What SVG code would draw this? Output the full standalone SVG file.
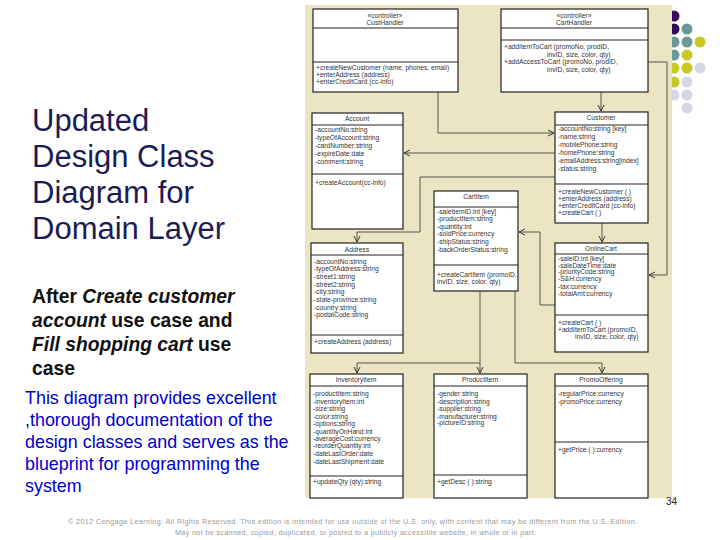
<svg xmlns="http://www.w3.org/2000/svg" width="720" height="540" viewBox="0 0 720 540">
<defs>
<marker id="arr" markerWidth="8" markerHeight="8" refX="7" refY="4" orient="auto" markerUnits="userSpaceOnUse">
<polyline points="1,1 7,4 1,7" fill="none" stroke="#333" stroke-width="1"/>
</marker>
</defs>
<style>
.box{fill:#fff;stroke:#222;stroke-width:1.2}
.sep{stroke:#222;stroke-width:1}
.t{font-family:"Liberation Sans",Arial,sans-serif;font-size:6.7px;fill:#333}
.c{text-anchor:middle}
.con{fill:none;stroke:#444;stroke-width:0.9}
.title{font-family:"Liberation Sans",Arial,sans-serif;font-size:31px;fill:#1c1c54}
.sub{font-family:"Liberation Sans",Arial,sans-serif;font-size:19.3px;fill:#111;font-weight:bold}
.blue{font-family:"Liberation Sans",Arial,sans-serif;font-size:17.9px;fill:#0000cc}
.foot{font-family:"Liberation Sans",Arial,sans-serif;font-size:7.2px;fill:#999}
</style>
<rect width="720" height="540" fill="#fff"/>
<g id="dots">
<circle cx="674" cy="16" r="5.5" fill="#330a5c"/>
<circle cx="674" cy="29" r="5.5" fill="#330a5c"/>
<circle cx="687" cy="29" r="5.5" fill="#6b9999"/>
<circle cx="674" cy="42" r="5.5" fill="#6b9999"/>
<circle cx="687" cy="42" r="5.5" fill="#6b9999"/>
<circle cx="700" cy="42" r="5.5" fill="#c9c824"/>
<circle cx="674" cy="55" r="5.5" fill="#6b9999"/>
<circle cx="687" cy="55" r="5.5" fill="#c9c824"/>
<circle cx="674" cy="68" r="5.5" fill="#c9c824"/>
<circle cx="687" cy="68" r="5.5" fill="#c9c824"/>
<circle cx="700" cy="68" r="5.5" fill="#d6d6e6"/>
<circle cx="674" cy="82" r="5.5" fill="#c9c824"/>
<circle cx="687" cy="82" r="5.5" fill="#d6d6e6"/>
<circle cx="674" cy="95" r="5.5" fill="#d6d6e6"/>
<circle cx="687" cy="95" r="5.5" fill="#d6d6e6"/>
<circle cx="687" cy="108" r="5.5" fill="#d6d6e6"/>
</g>
<rect x="305" y="5" width="367" height="493" fill="#ece5c4"/>
<g id="connectors">
<path class="con" d="M438,92 V133 H554" marker-end="url(#arr)"/>
<path class="con" d="M555,153 H404" marker-end="url(#arr)"/>
<path class="con" d="M601,92 V111" marker-end="url(#arr)"/>
<path class="con" d="M648,62 H667 V275 H649" marker-end="url(#arr)"/>
<path class="con" d="M555,177 H420 V232 H357 V242" marker-end="url(#arr)"/>
<path class="con" d="M602,223 V242" marker-end="url(#arr)"/>
<path class="con" d="M555,305 H540 V232 H519" marker-end="url(#arr)"/>
<path class="con" d="M480,291 V373" marker-end="url(#arr)"/>
<path class="con" d="M480,363 H357 V373" marker-end="url(#arr)"/>
<path class="con" d="M515,291 V363 H602 V373" marker-end="url(#arr)"/>
</g>
<g id="CustHandler">
<rect class="box" x="313" y="9" width="145" height="83"/>
<line class="sep" x1="313" y1="28" x2="458" y2="28"/>
<line class="sep" x1="313" y1="62" x2="458" y2="62"/>
<text class="t c" x="385" y="18">«controller»</text>
<text class="t c" x="385" y="25">CustHandler</text>
<text class="t" x="316" y="70">+createNewCustomer (name, phones, email)</text>
<text class="t" x="316" y="77">+enterAddress (address)</text>
<text class="t" x="316" y="84">+enterCreditCard (cc-info)</text>
</g>
<g id="CartHandler">
<rect class="box" x="501" y="9" width="147" height="83"/>
<line class="sep" x1="501" y1="28" x2="648" y2="28"/>
<line class="sep" x1="501" y1="40" x2="648" y2="40"/>
<text class="t c" x="574" y="18">«controller»</text>
<text class="t c" x="574" y="25">CartHandler</text>
<text class="t" x="504" y="49">+addItemToCart (promoNo, prodID,</text>
<text class="t" x="547" y="57">invID, size, color, qty)</text>
<text class="t" x="504" y="64">+addAccessToCart (promoNo, prodID,</text>
<text class="t" x="547" y="72">invID, size, color, qty)</text>
</g>
<g id="Account">
<rect class="box" x="312" y="113" width="91" height="116"/>
<line class="sep" x1="312" y1="125" x2="403" y2="125"/>
<line class="sep" x1="312" y1="174" x2="403" y2="174"/>
<text class="t c" x="357" y="121">Account</text>
<text class="t" x="315" y="132">-accountNo:string</text>
<text class="t" x="315" y="140">-typeOfAccount:string</text>
<text class="t" x="315" y="148">-cardNumber:string</text>
<text class="t" x="315" y="156">-expireDate:date</text>
<text class="t" x="315" y="164">-comment:string</text>
<text class="t" x="315" y="185">+createAccount(cc-info)</text>
</g>
<g id="Customer">
<rect class="box" x="555" y="112" width="93" height="111"/>
<line class="sep" x1="555" y1="125" x2="648" y2="125"/>
<line class="sep" x1="555" y1="184" x2="648" y2="184"/>
<text class="t c" x="601" y="120">Customer</text>
<text class="t" x="558" y="131">-accountNo:string [key]</text>
<text class="t" x="558" y="139">-name:string</text>
<text class="t" x="558" y="147">-mobilePhone:string</text>
<text class="t" x="558" y="155">-homePhone:string</text>
<text class="t" x="558" y="163">-emailAddress:string[index]</text>
<text class="t" x="558" y="171">-status:string</text>
<text class="t" x="558" y="194">+createNewCustomer ( )</text>
<text class="t" x="558" y="201">+enterAddress (address)</text>
<text class="t" x="558" y="208">+enterCreditCard (cc-info)</text>
<text class="t" x="558" y="215">+createCart ( )</text>
</g>
<g id="CartItem">
<rect class="box" x="434" y="191" width="84" height="100"/>
<line class="sep" x1="434" y1="207" x2="518" y2="207"/>
<line class="sep" x1="434" y1="265" x2="518" y2="265"/>
<text class="t c" x="476" y="199">CartItem</text>
<text class="t" x="437" y="214">-saleItemID:int [key]</text>
<text class="t" x="437" y="221">-productItem:string</text>
<text class="t" x="437" y="229">-quantity:int</text>
<text class="t" x="437" y="236">-soldPrice:currency</text>
<text class="t" x="437" y="244">-shipStatus:string</text>
<text class="t" x="437" y="252">-backOrderStatus:string</text>
<text class="t" x="437" y="277">+createCartItem (promoID,</text>
<text class="t" x="437" y="284">invID, size, color, qty)</text>
</g>
<g id="Address">
<rect class="box" x="311" y="243" width="92" height="110"/>
<line class="sep" x1="311" y1="255" x2="403" y2="255"/>
<line class="sep" x1="311" y1="335" x2="403" y2="335"/>
<text class="t c" x="357" y="252">Address</text>
<text class="t" x="314" y="264">-accountNo:string</text>
<text class="t" x="314" y="271">-typeOfAddress:string</text>
<text class="t" x="314" y="279">-street1:string</text>
<text class="t" x="314" y="287">-street2:string</text>
<text class="t" x="314" y="294">-city:string</text>
<text class="t" x="314" y="302">-state-province:string</text>
<text class="t" x="314" y="310">-country:string</text>
<text class="t" x="314" y="317">-postalCode:string</text>
<text class="t" x="314" y="344">+createAddress (address)</text>
</g>
<g id="OnlineCart">
<rect class="box" x="555" y="243" width="93" height="109"/>
<line class="sep" x1="555" y1="254" x2="648" y2="254"/>
<line class="sep" x1="555" y1="315" x2="648" y2="315"/>
<text class="t c" x="601" y="251">OnlineCart</text>
<text class="t" x="558" y="261">-saleID:int [key]</text>
<text class="t" x="558" y="268">-saleDateTime:date</text>
<text class="t" x="558" y="274">-priorityCode:string</text>
<text class="t" x="558" y="281">-S&amp;H:currency</text>
<text class="t" x="558" y="289">-tax:currency</text>
<text class="t" x="558" y="296">-totalAmt:currency</text>
<text class="t" x="558" y="325">+createCart ( )</text>
<text class="t" x="558" y="332">+addItemToCart (promoID,</text>
<text class="t" x="575" y="339">invID, size, color, qty)</text>
</g>
<g id="InventoryItem">
<rect class="box" x="310" y="374" width="93" height="124"/>
<line class="sep" x1="310" y1="386" x2="403" y2="386"/>
<line class="sep" x1="310" y1="476" x2="403" y2="476"/>
<text class="t c" x="356" y="382">InventoryItem</text>
<text class="t" x="313" y="396">-productItem:string</text>
<text class="t" x="313" y="404">-inventoryItem:int</text>
<text class="t" x="313" y="411">-size:string</text>
<text class="t" x="313" y="419">-color:string</text>
<text class="t" x="313" y="426">-options:string</text>
<text class="t" x="313" y="434">-quantityOnHand:int</text>
<text class="t" x="313" y="441">-averageCost:currency</text>
<text class="t" x="313" y="448">-reorderQuantity:int</text>
<text class="t" x="313" y="456">-dateLastOrder:date</text>
<text class="t" x="313" y="464">-dateLastShipment:date</text>
<text class="t" x="313" y="484">+updateQty (qty):string</text>
</g>
<g id="ProductItem">
<rect class="box" x="434" y="374" width="93" height="124"/>
<line class="sep" x1="434" y1="386" x2="527" y2="386"/>
<line class="sep" x1="434" y1="475" x2="527" y2="475"/>
<text class="t c" x="480" y="382">ProductItem</text>
<text class="t" x="437" y="396">-gender:string</text>
<text class="t" x="437" y="404">-description:string</text>
<text class="t" x="437" y="411">-supplier:string</text>
<text class="t" x="437" y="419">-manufacturer:string</text>
<text class="t" x="437" y="425">-pictureID:string</text>
<text class="t" x="437" y="484">+getDesc ( ):string</text>
</g>
<g id="PromoOffering">
<rect class="box" x="555" y="374" width="93" height="124"/>
<line class="sep" x1="555" y1="386" x2="648" y2="386"/>
<line class="sep" x1="555" y1="442" x2="648" y2="442"/>
<text class="t c" x="601" y="382">PromoOffering</text>
<text class="t" x="558" y="396">-regularPrice:currency</text>
<text class="t" x="558" y="404">-promoPrice:currency</text>
<text class="t" x="558" y="452">+getPrice ( ):currency</text>
</g>
<g id="text">
<text class="title" x="32" y="131">Updated</text>
<text class="title" x="32" y="167">Design Class</text>
<text class="title" x="32" y="203">Diagram for</text>
<text class="title" x="32" y="239">Domain Layer</text>
<text class="sub" x="32" y="303">After <tspan font-style="italic">Create customer</tspan></text>
<text class="sub" x="32" y="327"><tspan font-style="italic">account</tspan> use case and</text>
<text class="sub" x="32" y="351"><tspan font-style="italic">Fill shopping cart</tspan> use</text>
<text class="sub" x="32" y="375">case</text>
<text class="blue" x="25" y="404">This diagram provides excellent</text>
<text class="blue" x="25" y="426">,thorough documentation  of the</text>
<text class="blue" x="25" y="448">design classes and serves as the</text>
<text class="blue" x="25" y="470">blueprint for programming the</text>
<text class="blue" x="25" y="492">system</text>
<text class="t" x="666" y="505" style="font-size:10px;fill:#222">34</text>
<text class="foot" x="68" y="524" textLength="569" lengthAdjust="spacing">© 2012 Cengage Learning. All Rights Reserved. This edition is intended for use outside of the U.S. only, with content that may be different from the U.S. Edition.</text>
<text class="foot" x="175" y="535" textLength="361" lengthAdjust="spacing">May not be scanned, copied, duplicated, or posted to a publicly accessible website, in whole or in part.</text>
</g>
</svg>
